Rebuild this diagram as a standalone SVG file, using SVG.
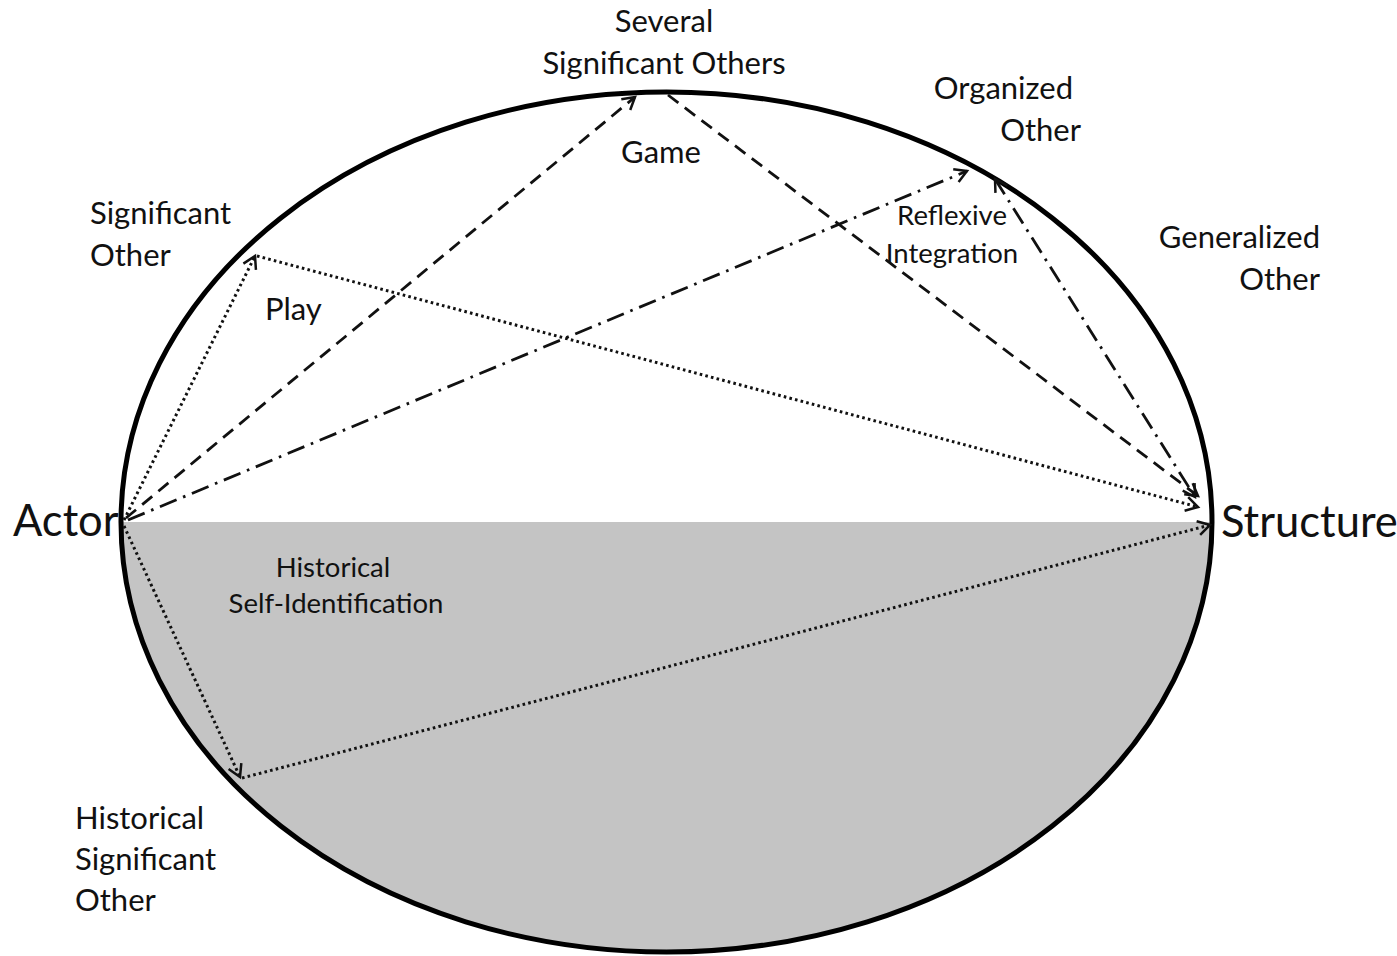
<svg xmlns="http://www.w3.org/2000/svg" width="1397" height="956" viewBox="0 0 1397 956">
<style>
.lbl{font-family:Lato,"Open Sans","Noto Sans",sans-serif;fill:#111;font-size:31px}
.sm{font-size:27.5px}
.big{font-size:43.5px}
.c{fill:none;stroke:#111;stroke-width:2.8}
.dot{stroke-dasharray:2.6 3.2;stroke-width:3}
.dash{stroke-dasharray:13 8}
.dd{stroke-dasharray:18 7 2.6 7}
</style>
<defs>
<marker id="ah" markerUnits="userSpaceOnUse" markerWidth="30" markerHeight="30" refX="15" refY="15" orient="auto-start-reverse" viewBox="0 0 30 30">
<path d="M3,8 L15,15 L3,22" fill="none" stroke="#111" stroke-width="2.5"/>
</marker>
</defs>
<rect width="1397" height="956" fill="#fff"/>
<g id="ellipse">
<path d="M121,522 A545.5,430 0 0 0 1212,522 Z" fill="#c4c4c4"/>
<ellipse cx="666.5" cy="522" rx="545.5" ry="430" fill="none" stroke="#000" stroke-width="5"/>
</g>
<g id="connectors">
<line class="c dot" x1="124" y1="520" x2="255" y2="256" marker-end="url(#ah)"/>
<line class="c dot" x1="257" y1="256" x2="1198" y2="507" marker-end="url(#ah)"/>
<line class="c dash" x1="126" y1="518" x2="635" y2="97" marker-end="url(#ah)"/>
<line class="c dash" x1="668" y1="95" x2="1198" y2="496" marker-end="url(#ah)"/>
<line class="c dd" x1="128" y1="520" x2="967" y2="171" marker-end="url(#ah)"/>
<line class="c dd" x1="995" y1="179" x2="1195" y2="497" marker-start="url(#ah)" marker-end="url(#ah)"/>
<line class="c dot" x1="124" y1="526" x2="240" y2="777" marker-end="url(#ah)"/>
<line class="c dot" x1="242" y1="778" x2="1210" y2="525" marker-end="url(#ah)"/>
</g>
<g id="actor"><text class="lbl big" x="13" y="536">Actor</text></g>
<g id="structure"><text class="lbl big" x="1221" y="537">Structure</text></g>
<g id="several-significant-others"><text class="lbl" x="664" y="32" text-anchor="middle">Several</text><text class="lbl" x="664" y="74" text-anchor="middle">Significant Others</text></g>
<g id="game"><text class="lbl" x="661" y="163" text-anchor="middle">Game</text></g>
<g id="organized-other"><text class="lbl" x="1073" y="99" text-anchor="end">Organized</text><text class="lbl" x="1081" y="141" text-anchor="end">Other</text></g>
<g id="reflexive-integration"><text class="lbl sm" x="952" y="225" text-anchor="middle">Reflexive</text><text class="lbl sm" x="952" y="263" text-anchor="middle">Integration</text></g>
<g id="significant-other"><text class="lbl" x="90" y="224">Significant</text><text class="lbl" x="90" y="266">Other</text></g>
<g id="play"><text class="lbl" x="265" y="320">Play</text></g>
<g id="generalized-other"><text class="lbl" x="1320" y="248" text-anchor="end">Generalized</text><text class="lbl" x="1320" y="290" text-anchor="end">Other</text></g>
<g id="historical-self-identification"><text class="lbl sm" x="333" y="577" text-anchor="middle">Historical</text><text class="lbl sm" x="336" y="613" text-anchor="middle">Self-Identification</text></g>
<g id="historical-significant-other"><text class="lbl" x="75" y="829">Historical</text><text class="lbl" x="75" y="870">Significant</text><text class="lbl" x="75" y="911">Other</text></g>
</svg>
